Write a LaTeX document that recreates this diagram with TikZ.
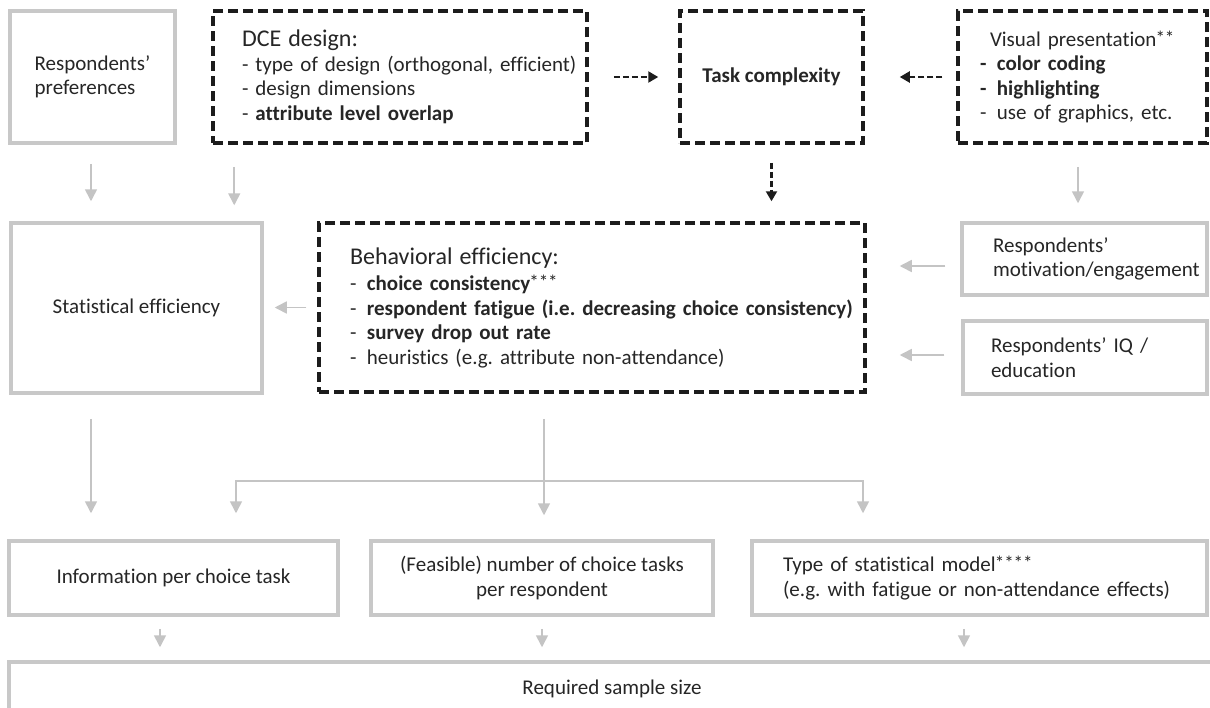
\documentclass[tikz,border=0pt]{standalone}
\usepackage{fontspec}
\setmainfont{Carlito}[Ligatures=NoCommon]
\usetikzlibrary{arrows.meta}
\definecolor{boxGray}{RGB}{200,200,200}
\definecolor{arrowGray}{RGB}{196,196,196}
\definecolor{dashBlack}{RGB}{28,28,28}
\definecolor{textBlack}{RGB}{38,38,38}
\newcommand{\itemsize}{\fontsize{21}{24.5}\selectfont}
\newcommand{\headsize}{\fontsize{24}{27}\selectfont}
\newcommand{\stars}[1]{\raisebox{2pt}{\fontsize{19}{19}\selectfont\mdseries\kern-1pt #1}}
\frenchspacing

\begin{document}
\begin{tikzpicture}[x=1pt, y=-1pt,
  graybox/.style={draw=boxGray, line width=3.5pt, text=textBlack, font=\itemsize, inner sep=0pt},
  dashbox/.style={draw=dashBlack, line width=3.5pt, dash pattern=on 10pt off 5pt, text=textBlack, font=\itemsize, inner sep=0pt},
  grayarrow/.style={draw=arrowGray, line width=1.6pt, -{Triangle[width=12pt,length=12pt]}},
  dasharrow/.style={draw=dashBlack, line width=2.2pt, dash pattern=on 6pt off 3pt, -{Triangle[width=11pt,length=10pt]}},
  lefttext/.style={align=left, text width=#1}]
	\useasboundingbox (0,0) rectangle (1210,707);
	\clip (0,0) rectangle (1210,707);
	\fill[white] (0,0) rectangle (1210,707);

	\node[graybox, minimum width=165pt, minimum height=132pt, align=left] (pref) at (92.5,77) {Respondents’\\preferences};
	\node[dashbox, minimum width=374pt, minimum height=132pt, lefttext=316pt] (dce) at (400,77)
		{{\headsize DCE design:}\\\mbox{- type of design (orthogonal, efficient)}\\- design dimensions\\- \textbf{attribute level overlap}};
	\node[dashbox, minimum width=183pt, minimum height=132pt, font=\itemsize\bfseries] (task) at (771.5,77) {Task complexity};
	\node[dashbox, minimum width=249pt, minimum height=132pt, lefttext=205pt] (visual) at (1082.5,77)
		{\hspace*{10pt}Visual presentation\stars{**}\\\textbf{-\enspace color coding}\\\textbf{-\enspace highlighting}\\-\enspace use of graphics, etc.};

	\node[graybox, minimum width=251pt, minimum height=170pt] (stat) at (136.5,308) {Statistical efficiency};
	\node[dashbox, minimum width=546pt, minimum height=169pt, lefttext=484pt] (behav) at (592,307.5)
		{{\headsize Behavioral efficiency:}\\[2pt]
		-\enspace\textbf{choice consistency}\stars{***}\\
		\mbox{-\enspace\textbf{respondent fatigue (i.e. decreasing choice consistency)}}\\
		-\enspace\textbf{survey drop out rate}\\
		-\enspace heuristics (e.g. attribute non-attendance)};
	\node[graybox, minimum width=245pt, minimum height=72pt, lefttext=183pt] (motiv) at (1084.5,259) {Respondents’\\\mbox{motivation/engagement}};
	\node[graybox, minimum width=244pt, minimum height=73pt, lefttext=188pt] (iq) at (1085,357.5) {Respondents’ IQ /\\education};

	\node[graybox, minimum width=329pt, minimum height=74pt] (info) at (173.5,578) {Information per choice task};
	\node[graybox, minimum width=342pt, minimum height=74pt, align=center] (feas) at (542,578) {(Feasible) number of choice tasks\\per respondent};
	\node[graybox, minimum width=455pt, minimum height=74pt, lefttext=393pt] (type) at (979.5,578)
		{Type of statistical model\stars{****}\\(e.g. with fatigue or non-attendance effects)};
	\node[graybox, minimum width=1206pt, minimum height=54pt] (sample) at (612,689) {Required sample size};

	\draw[dasharrow, shorten <=25pt, shorten >=20pt] (dce.east) -- (task.west);
	\draw[dasharrow, shorten <=14pt, shorten >=35pt] (visual.west) -- (task.east);
	\draw[dasharrow, shorten <=18pt, shorten >=20pt] (task.south) -- (task.south |- behav.north);

	\draw[grayarrow, shorten <=19pt, shorten >=20pt] ([xshift=-1.5pt]pref.south) -- ([xshift=-1.5pt]pref.south |- stat.north);
	\draw[grayarrow, shorten <=22pt, shorten >=16pt] ([xshift=23pt]dce.south west) -- ([xshift=23pt]dce.south west |- stat.north);
	\draw[grayarrow, shorten <=22pt, shorten >=18pt] ([xshift=-4.5pt]visual.south) -- ([xshift=-4.5pt]visual.south |- motiv.north);
	\draw[grayarrow, shorten <=15pt, shorten >=33pt] ([yshift=-7pt]motiv.west) -- ([yshift=-7pt]motiv.west -| behav.east);
	\draw[grayarrow, shorten <=17pt, shorten >=33pt] ([yshift=2.5pt]iq.west) -- ([yshift=2.5pt]iq.west -| behav.east);
	\draw[grayarrow, shorten <=11pt, shorten >=11pt] (behav.west) -- (behav.west -| stat.east);

	\draw[grayarrow, shorten <=24pt, shorten >=26pt] ([xshift=-45.5pt]stat.south) -- ([xshift=-45.5pt]stat.south |- info.north);
	\draw[grayarrow, shorten <=25pt, shorten >=24pt] ([xshift=-48pt]behav.south) -- ([xshift=-48pt]behav.south |- feas.north);
	\coordinate (fork) at ([xshift=-48pt,yshift=-87pt]behav.south);
	\draw[grayarrow, shorten >=26pt] (fork) -| ([xshift=62.5pt]info.north);
	\draw[grayarrow, shorten >=26pt] (fork) -| ([xshift=-116.5pt]type.north);

	\draw[grayarrow, shorten <=12pt, shorten >=13pt] ([xshift=-13.5pt]info.south) -- ([xshift=-13.5pt]info.south |- sample.north);
	\draw[grayarrow, shorten <=12pt, shorten >=13pt] (feas.south) -- (feas.south |- sample.north);
	\draw[grayarrow, shorten <=12pt, shorten >=13pt] ([xshift=-15.5pt]type.south) -- ([xshift=-15.5pt]type.south |- sample.north);
\end{tikzpicture}
\end{document}
